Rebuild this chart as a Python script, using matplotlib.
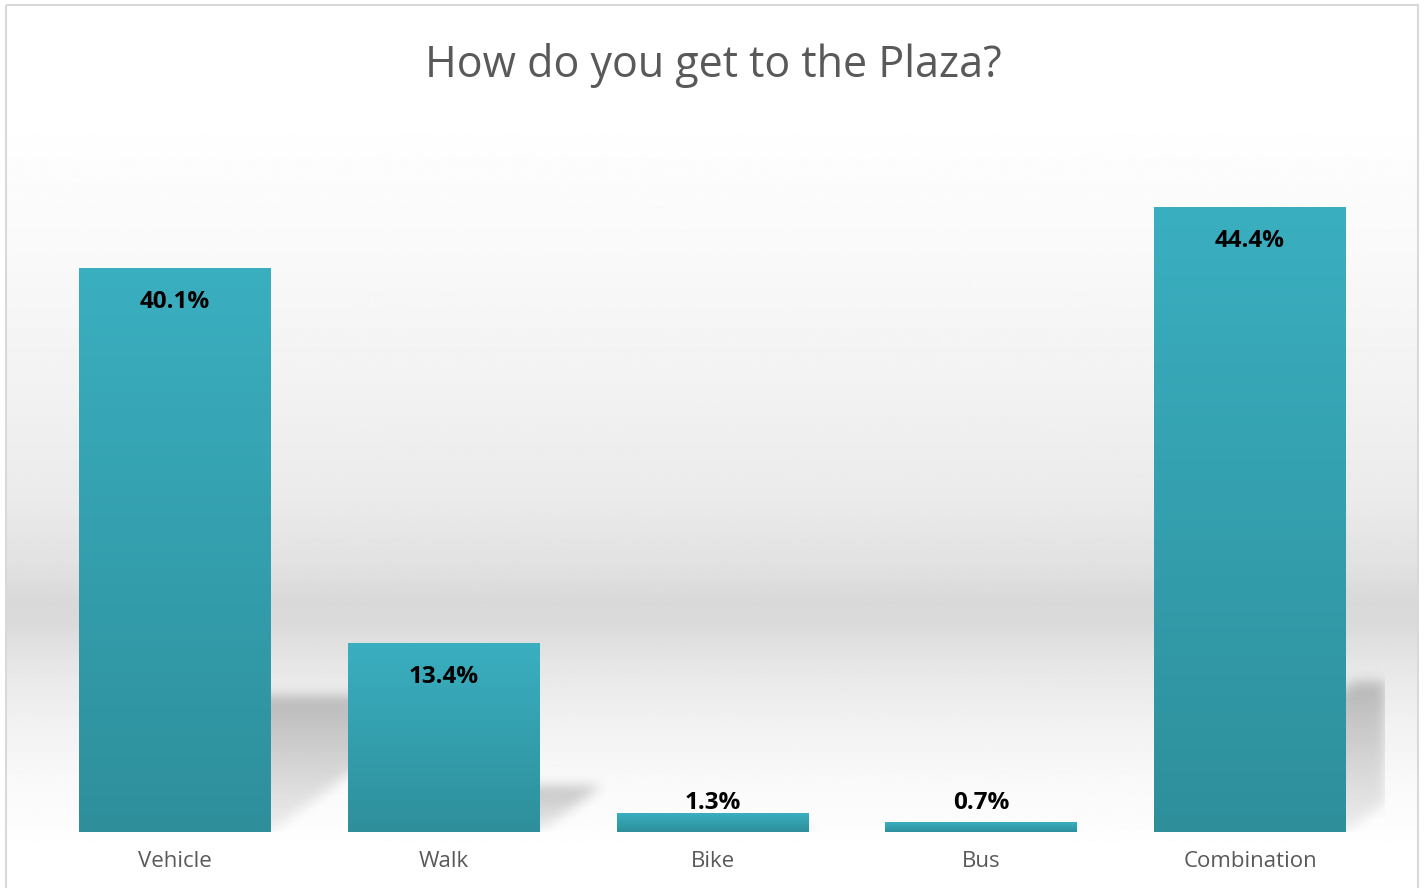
"""Bar chart: How do you get to the Plaza? (survey share by travel mode)."""
import matplotlib

matplotlib.use("Agg")
import matplotlib.pyplot as plt  # noqa: E402
import numpy as np  # noqa: E402
from matplotlib.patches import Rectangle  # noqa: E402

# ---- data -------------------------------------------------------------
MODES = ["Vehicle", "Walk", "Bike", "Bus", "Combination"]
SHARE = [40.1, 13.4, 1.3, 0.7, 44.4]
LABELS = ["40.1%", "13.4%", "1.3%", "0.7%", "44.4%"]
TITLE = "How do you get to the Plaza?"

# ---- style ------------------------------------------------------------
W, H = 1426, 888
FONT = "Open Sans"
TEXT_GREY = "#595959"
BAR_TOP = np.array([58, 175, 192]) / 255
BAR_BOTTOM = np.array([46, 143, 155]) / 255
# background gradient stops: (pixel row from top, grey level)
BG_STOPS = [(0, 255), (130, 254), (250, 249), (400, 241), (500, 234),
            (560, 226), (600, 217), (620, 218), (660, 230), (720, 241),
            (780, 249), (840, 254), (888, 255)]


def gaussian_blur(img, sigma):
    r = int(3 * sigma)
    k = np.exp(-0.5 * (np.arange(-r, r + 1) / sigma) ** 2)
    k /= k.sum()
    out = np.apply_along_axis(lambda v: np.convolve(v, k, mode="same"), 0, img)
    out = np.apply_along_axis(lambda v: np.convolve(v, k, mode="same"), 1, out)
    return out


fig = plt.figure(figsize=(W / 100, H / 100), dpi=100)

# background panel with vertical grey gradient and thin border
bg = fig.add_axes([0, 0, 1, 1], zorder=-2)
bg.set_xlim(0, W)
bg.set_ylim(H, 0)
bg.axis("off")
rows = np.arange(H)
grey = np.interp(rows, [s[0] for s in BG_STOPS], [s[1] for s in BG_STOPS]) / 255
grad = np.repeat(grey[:, None], 2, axis=1)
bg.imshow(grad, cmap="gray", vmin=0, vmax=1, extent=(6, 1418, H, 6),
          aspect="auto", interpolation="bilinear")
bg.add_patch(Rectangle((5.5, 5.5), 1412.5, H + 10, fill=False,
                       edgecolor="#D9D9D9", linewidth=1.5))

# main plot
ax = fig.add_axes([40.6 / W, 56 / H, 1343.8 / W, 703 / H])
ax.patch.set_visible(False)
for sp in ax.spines.values():
    sp.set_visible(False)
x = np.arange(len(MODES))
bars = ax.bar(x, SHARE, width=0.714, color=BAR_TOP, zorder=3)
ax.set_xlim(-0.5, len(MODES) - 0.5)
ax.set_ylim(0, 50)
ax.set_yticks([])
ax.set_xticks(x)
ax.set_xticklabels(MODES, fontsize=16, color=TEXT_GREY, family=FONT)
ax.tick_params(axis="x", length=0, pad=14)

# gradient fill inside each bar
vgrad = np.linspace(0, 1, 256)[:, None]
cols = BAR_TOP[None, :] * (1 - vgrad) + BAR_BOTTOM[None, :] * vgrad
cols = cols[:, None, :]
for b in bars:
    bx, bw, bh = b.get_x(), b.get_width(), b.get_height()
    ax.imshow(cols, extent=(bx, bx + bw, 0, bh), aspect="auto",
              interpolation="bilinear", zorder=3.5)
ax.set_xlim(-0.5, len(MODES) - 0.5)
ax.set_ylim(0, 50)

# soft diagonal shadows cast up and to the right
fig.canvas.draw()
abox = ax.get_window_extent()
pw, ph = int(round(abox.width)), int(round(abox.height))
yy, xx = np.mgrid[0:ph, 0:pw]
alpha = np.zeros((ph, pw))
for b in bars:
    (xl, y0), (xr, y1) = ax.transData.transform(
        [(b.get_x(), 0), (b.get_x() + b.get_width(), b.get_height())])
    xl -= abox.x0
    xr -= abox.x0
    hpx = y1 - y0
    sh = 0.24 * hpx
    if sh < 1:
        continue
    shift = 1.33 * yy
    m = (yy <= sh) & (xx >= xl + shift) & (xx <= xr + shift)
    ramp = 0.3 + 0.7 * np.clip(yy / sh, 0, 1)
    alpha = np.maximum(alpha, m * ramp)
alpha = gaussian_blur(alpha, 6) * 0.22
shadow = np.zeros((ph, pw, 4))
shadow[..., 3] = np.clip(alpha, 0, 1)
ax.imshow(shadow[::-1], extent=(-0.5, len(MODES) - 0.5, 0, 50), aspect="auto",
          zorder=1, interpolation="bilinear")
ax.set_xlim(-0.5, len(MODES) - 0.5)
ax.set_ylim(0, 50)

# data labels near the top of each bar
for xi, v, lab in zip(x, SHARE, LABELS):
    ax.text(xi, max(v - 2.4, 2.05), lab, ha="center", va="center",
            fontsize=17.5, fontweight="bold", color="black", family=FONT, zorder=5)

fig.text(0.5, 1 - 66 / H, TITLE, ha="center", va="center", fontsize=31,
         color=TEXT_GREY, family=FONT)

fig.savefig("out.png", dpi=100)
